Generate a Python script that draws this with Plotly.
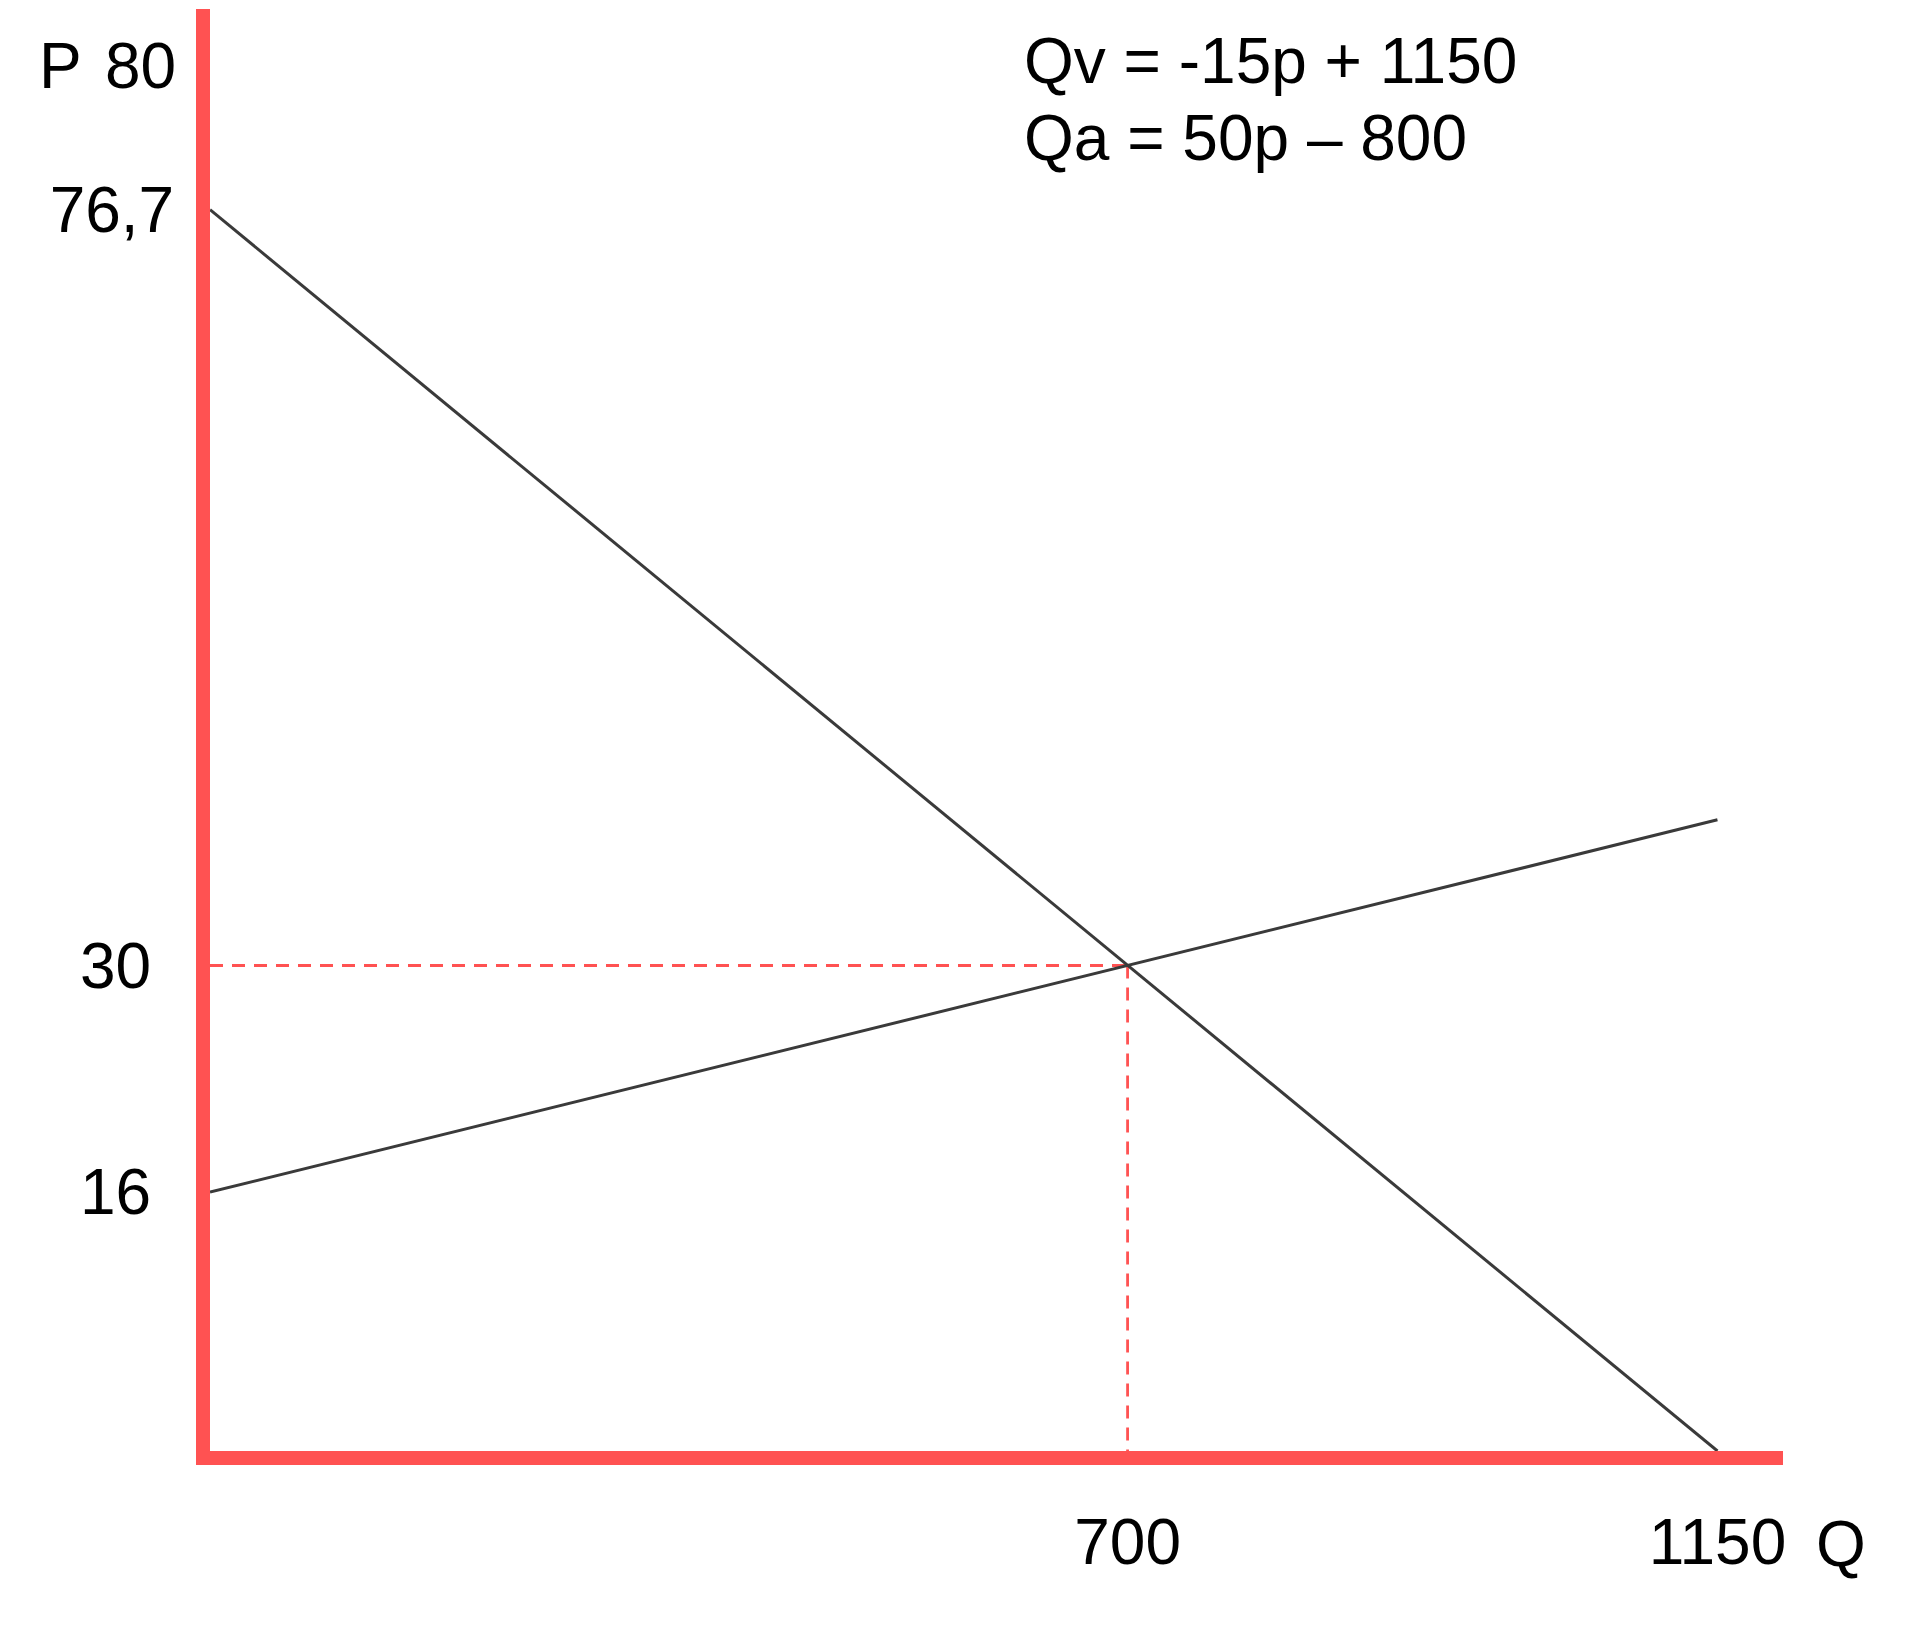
import plotly.graph_objects as go

# ---- data (market model) ----
q_points = [0, 700, 1150]
demand_p = [76.7, 30, 0]        # Qv = -15p + 1150
supply_p = [16, 30, 39]         # Qa = 50p - 800
eq_q = 700
eq_p = 30
p_max = 80
y_tickvals = [16, 30, 76.7]
y_ticktext = ["16\u00a0\u200a", "30\u00a0\u200a", "76,7"]
x_tickvals = [700, 1150]
x_ticktext = ["700", "1150"]
equations = ["Qv = -15p + 1150", "Qa = 50p \u2013 800"]

FONT = "Liberation Sans, Arial, sans-serif"
RED = "#ff5252"
DARK = "#3a3a3a"
FS = 64

fig = go.Figure()
fig.add_trace(go.Scatter(x=[0, eq_q], y=[eq_p, eq_p], mode="lines",
                         line=dict(color=RED, width=2.8, dash="13px,9px"), hoverinfo="skip"))
fig.add_trace(go.Scatter(x=[eq_q, eq_q], y=[eq_p, 0], mode="lines",
                         line=dict(color=RED, width=2.8, dash="13px,9px"), hoverinfo="skip"))
fig.add_trace(go.Scatter(x=q_points, y=demand_p, mode="lines",
                         line=dict(color=DARK, width=3), name="Qv"))
fig.add_trace(go.Scatter(x=q_points, y=supply_p, mode="lines",
                         line=dict(color=DARK, width=3), name="Qa"))

txt = dict(family=FONT, size=FS, color="black")
annotations = [
    dict(text="P", xref="paper", yref="paper", x=0, y=1,
         xanchor="left", yanchor="middle", xshift=-173, yshift=-57,
         showarrow=False, font=txt),
    dict(text=str(p_max), xref="paper", yref="paper", x=0, y=1,
         xanchor="right", yanchor="middle", xshift=-32, yshift=-57,
         showarrow=False, font=txt),
    dict(text="Q", xref="paper", yref="paper", x=1, y=0, xanchor="left", yanchor="middle",
         xshift=31, yshift=-93, showarrow=False, font=txt),
    dict(text=equations[0], xref="paper", yref="paper", x=0.5161, y=1, xanchor="left",
         yanchor="middle", yshift=-52, showarrow=False, font=txt),
    dict(text=equations[1], xref="paper", yref="paper", x=0.5161, y=1, xanchor="left",
         yanchor="middle", yshift=-129, showarrow=False, font=txt),
]

fig.update_layout(
    width=1906, height=1627,
    margin=dict(l=202, r=131, t=1, b=184),
    paper_bgcolor="white", plot_bgcolor="white",
    showlegend=False,
    annotations=annotations,
    font=txt,
    xaxis=dict(range=[0, 1200], showgrid=False, zeroline=False, showline=True,
               linecolor=RED, linewidth=14, tickvals=x_tickvals, ticktext=x_ticktext,
               ticks="", ticklabelstandoff=22, tickfont=txt, fixedrange=True),
    yaxis=dict(range=[0, 89.1], showgrid=False, zeroline=False, showline=True,
               linecolor=RED, linewidth=14, tickvals=y_tickvals, ticktext=y_ticktext,
               ticks="", ticklabelstandoff=9, tickfont=txt, fixedrange=True),
)

fig.write_html("out.html")
